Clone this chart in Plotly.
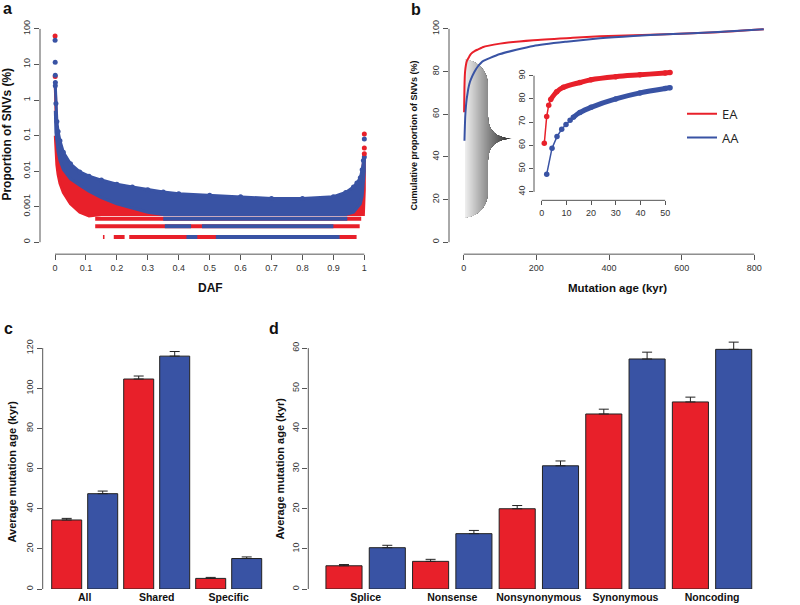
"""Four-panel SNV age figure (a: DAF spectrum, b: cumulative age, c/d: mean age bars)."""
import plotly.graph_objects as go

W, H = 800, 605
RED = "#E8202A"
BLUE = "#3953A4"
AXC = "#555555"
TXT = "#333333"
FONT = "Liberation Sans, Arial, sans-serif"

# ---- panel a: proportion of SNVs by derived allele frequency (envelopes)
DAF_GRID = [0.001, 0.003, 0.006, 0.01, 0.016, 0.027, 0.05, 0.08, 0.11, 0.15, 0.2, 0.25,
            0.3, 0.35, 0.4, 0.5, 0.6, 0.7, 0.8, 0.9, 0.94, 0.965, 0.976, 0.987, 0.993,
            0.997, 1.0]
AA_TOP = [2.5, 0.8, 0.25, 0.13, 0.072, 0.034, 0.016, 0.0095, 0.0072, 0.0056, 0.0043,
          0.0036, 0.0030, 0.0026, 0.0023, 0.0021, 0.0019, 0.0017, 0.0017, 0.0019, 0.0025,
          0.0036, 0.0046, 0.0065, 0.011, 0.02, 0.025]
AA_BOTTOM = [0.5, 0.12, 0.06, 0.035, 0.02, 0.011, 0.006, 0.0040, 0.0027, 0.0018, 0.0012,
             0.0009, 0.0007, 0.0006, 0.0006, 0.0006, 0.0006, 0.0006, 0.0006, 0.0006,
             0.0006, 0.0007, 0.0009, 0.0012, 0.002, 0.004, 0.01]
EA_TOP = [2.2, 0.3, 0.08, 0.04, 0.02, 0.012, 0.0065, 0.0045, 0.0035, 0.0028, 0.0022,
          0.0017, 0.0014, 0.0011, 0.001, 0.0009, 0.0009, 0.0009, 0.0009, 0.0009, 0.0011,
          0.0016, 0.0022, 0.0035, 0.008, 0.02, 0.03]
EA_BOTTOM = [0.1, 0.04, 0.015, 0.008, 0.0045, 0.0025, 0.0012, 0.0007, 0.00055, 0.0006,
             0.0006, 0.0006, 0.0006, 0.0006, 0.0006, 0.0006, 0.0006, 0.0006, 0.0006,
             0.0006, 0.0006, 0.0006, 0.0006, 0.0006, 0.0006, 0.0006, 0.003]
# isolated points at the two ends
EA_SINGLE_DAF = [0.0003, 0.0006, 1.0, 1.0, 1.0]
EA_SINGLE_P = [63, 4.6, 0.11, 0.045, 0.031]
AA_SINGLE_DAF = [0.0003, 0.0006, 0.0009, 0.0012, 1.0]
AA_SINGLE_P = [48, 11.6, 5.0, 3.1, 0.08]
# rows of singletons/doubletons/tripletons: (level, DAF from, DAF to)
EA_ROWS = [(0.00046, 0.13, 0.99), (0.00028, 0.13, 0.985), (0.00014, 0.155, 0.16),
           (0.00014, 0.19, 0.225), (0.00014, 0.24, 0.975)]
AA_ROWS = [(0.00046, 0.35, 0.945), (0.00028, 0.355, 0.44), (0.00028, 0.475, 0.9),
           (0.00014, 0.425, 0.46), (0.00014, 0.52, 0.92)]

# ---- panel b: cumulative proportion of SNVs vs mutation age (kyr)
EA_AGE = [1.05, 2.03, 2.84, 3.65, 6.1, 8.8, 15.5, 20, 30, 39.8, 50, 52, 100, 192, 300,
          375, 559, 700, 826]
EA_CUM = [60.9, 72.5, 77.3, 79.8, 83.1, 85.0, 87.1, 88.3, 89.6, 90.4, 91.2, 91.4, 93.1,
          94.7, 95.8, 96.5, 97.5, 98.4, 99.8]
AA_AGE = [2.03, 4.18, 6.2, 8.1, 9.85, 11.5, 12.8, 15.5, 20, 30, 39.8, 50, 52, 100, 192,
          283, 375, 467, 559, 700, 826]
AA_CUM = [47.6, 58.8, 63.8, 67.0, 69.0, 70.8, 72.1, 74.2, 76.4, 80.0, 82.6, 84.5, 84.8,
          88.2, 92.0, 94.0, 95.6, 96.7, 97.5, 98.5, 99.8]
INSET_MAX_AGE = 52

# ---- panel c / d: average mutation age (kyr) with SE
CATS_C = ["All", "Shared", "Specific"]
EA_C = [34.4, 104.6, 5.3]
EA_C_ERR = [0.8, 1.5, 0.5]
AA_C = [47.5, 116.0, 15.2]
AA_C_ERR = [1.3, 2.3, 0.8]

CATS_D = ["Splice", "Nonsense", "Nonsynonymous", "Synonymous", "Noncoding"]
EA_D = [5.8, 6.9, 20.0, 43.6, 46.6]
EA_D_ERR = [0.3, 0.5, 0.8, 1.2, 1.2]
AA_D = [10.3, 13.8, 30.7, 57.3, 59.7]
AA_D_ERR = [0.6, 0.8, 1.2, 1.7, 1.8]

LOGY_RANGE = [-4.3364, 2.2523]   # panel a, log10 units


def px(x):
    return x / W


def py(y):
    return 1 - y / H


def axis(**kw):
    base = dict(showline=False, showgrid=False, zeroline=False, ticks="outside",
                ticklen=5, tickwidth=1, tickcolor=AXC,
                tickfont=dict(family=FONT, size=9, color=TXT))
    base.update(kw)
    return base


fig = go.Figure()

# panel a ------------------------------------------------------------------
fig.add_trace(go.Scatter(x=DAF_GRID + DAF_GRID[::-1], y=EA_TOP + EA_BOTTOM[::-1], mode="lines",
                         fill="toself", fillcolor=RED, line=dict(color=RED, width=3),
                         xaxis="x", yaxis="y", showlegend=False))
for lvl, a, b in EA_ROWS:
    fig.add_trace(go.Scatter(x=[a, b], y=[lvl, lvl], mode="lines",
                             line=dict(color=RED, width=4), xaxis="x", yaxis="y",
                             showlegend=False))
fig.add_trace(go.Scatter(x=DAF_GRID + DAF_GRID[::-1], y=AA_TOP + AA_BOTTOM[::-1], mode="lines",
                         fill="toself", fillcolor=BLUE, line=dict(color=BLUE, width=3),
                         xaxis="x", yaxis="y", showlegend=False))
# dotted, ragged upper edge of the AA cloud
fig.add_trace(go.Scatter(x=DAF_GRID, y=AA_TOP, mode="markers",
                         marker=dict(color=BLUE, size=5), xaxis="x", yaxis="y",
                         showlegend=False))
for lvl, a, b in AA_ROWS:
    fig.add_trace(go.Scatter(x=[a, b], y=[lvl, lvl], mode="lines",
                             line=dict(color=BLUE, width=4), xaxis="x", yaxis="y",
                             showlegend=False))
fig.add_trace(go.Scatter(x=EA_SINGLE_DAF, y=EA_SINGLE_P, mode="markers",
                         marker=dict(color=RED, size=5), xaxis="x", yaxis="y", showlegend=False))
fig.add_trace(go.Scatter(x=AA_SINGLE_DAF, y=AA_SINGLE_P, mode="markers",
                         marker=dict(color=BLUE, size=5), xaxis="x", yaxis="y", showlegend=False))

# panel b ------------------------------------------------------------------
for age, cum, col, name in [(EA_AGE, EA_CUM, RED, "EA"), (AA_AGE, AA_CUM, BLUE, "AA")]:
    fig.add_trace(go.Scatter(x=age, y=cum, mode="lines", name=name,
                             line=dict(color=col, width=2, shape="spline", smoothing=0.6),
                             xaxis="x2", yaxis="y2", legendgroup=name))
# inset: first ages as separate dots, then a dense run of dots
for age, cum, col, dense_from in [(EA_AGE, EA_CUM, RED, 3), (AA_AGE, AA_CUM, BLUE, 6)]:
    ia = [a for a in age if a <= INSET_MAX_AGE]
    ic = cum[:len(ia)]
    fig.add_trace(go.Scatter(x=ia[dense_from:], y=ic[dense_from:], mode="lines",
                             line=dict(color=col, width=5, shape="spline"),
                             xaxis="x3", yaxis="y3", showlegend=False))
    fig.add_trace(go.Scatter(x=ia, y=ic, mode="lines+markers",
                             line=dict(color=col, width=1.5),
                             marker=dict(color=col, size=5.5),
                             xaxis="x3", yaxis="y3", showlegend=False))


# panels c and d -----------------------------------------------------------
def bars(cats, vals, errs, col, xa, ya):
    return go.Bar(x=cats, y=vals, marker=dict(color=col, line=dict(color="#222", width=1)),
                  error_y=dict(type="data", symmetric=False, array=errs,
                               arrayminus=[0] * len(errs), color="#222", thickness=1, width=5),
                  xaxis=xa, yaxis=ya, showlegend=False)


fig.add_trace(bars(CATS_C, EA_C, EA_C_ERR, RED, "x4", "y4"))
fig.add_trace(bars(CATS_C, AA_C, AA_C_ERR, BLUE, "x4", "y4"))
fig.add_trace(bars(CATS_D, EA_D, EA_D_ERR, RED, "x5", "y5"))
fig.add_trace(bars(CATS_D, AA_D, AA_D_ERR, BLUE, "x5", "y5"))

# R-style detached axis lines spanning the tick range only
shapes = []


def hline(xref, yref, x0, x1):
    shapes.append(dict(type="line", xref=xref, yref=yref + " domain", x0=x0, x1=x1,
                       y0=0, y1=0, line=dict(color=AXC, width=1)))


def vline(xref, yref, y0, y1):
    shapes.append(dict(type="line", xref=xref + " domain", yref=yref, x0=0, x1=0,
                       y0=y0, y1=y1, line=dict(color=AXC, width=1)))


def logfrac(v):
    lo, hi = LOGY_RANGE
    return (v - lo) / (hi - lo)


hline("x", "y", 0, 1)
shapes.append(dict(type="line", xref="x domain", yref="y domain", x0=0, x1=0,
                   y0=logfrac(-4), y1=logfrac(2), line=dict(color=AXC, width=1)))
hline("x2", "y2", 0, 800)
vline("x2", "y2", 0, 100)
hline("x3", "y3", 0, 50)
vline("x3", "y3", 40, 90)
vline("x4", "y4", 0, 120)
vline("x5", "y5", 0, 60)


# curly brace (grey gradient) linking the main curve to the inset
def bez(p0, p1, p2, p3, n=14):
    out = []
    for i in range(n + 1):
        t = i / n
        u = 1 - t
        out.append((u ** 3 * p0[0] + 3 * u * u * t * p1[0] + 3 * u * t * t * p2[0] + t ** 3 * p3[0],
                    u ** 3 * p0[1] + 3 * u * u * t * p1[1] + 3 * u * t * t * p2[1] + t ** 3 * p3[1]))
    return out


edge = (bez((466, 59), (476, 60), (488, 68), (488, 86))
        + bez((488, 116), (488, 131), (497, 137.5), (512, 138))
        + bez((512, 138), (497, 138.5), (488, 145), (488, 160))
        + bez((488, 190), (488, 208), (476, 216), (466, 217)))
left = 465
for c in range(512, left, -1):
    t = (c - left) / (512 - left)
    g = int(242 - t * 205)
    pts = [(left, 59)] + [(min(x, c), y) for x, y in edge] + [(left, 217)]
    path = "M " + " L ".join(f"{px(x):.5f},{py(y):.5f}" for x, y in pts) + " Z"
    shapes.append(dict(type="path", xref="paper", yref="paper", path=path,
                       fillcolor=f"rgb({g},{g},{g})", line=dict(width=0), layer="below"))

ann = []


def text(x, y, s, size=11, angle=0, bold=True):
    ann.append(dict(x=px(x), y=py(y), xref="paper", yref="paper", text=s, showarrow=False,
                    textangle=angle, xanchor="center", yanchor="middle",
                    font=dict(family=FONT, size=size, color="#111",
                              weight="bold" if bold else "normal")))


text(7, 8, "a", 16)
text(416, 9, "b", 16)
text(8, 329, "c", 16)
text(274, 329, "d", 16)
text(210, 288, "DAF", 12)
text(7, 134, "Proportion of SNVs (%)", 12, -90)
text(617, 288, "Mutation age (kyr)", 11.5)
text(414, 135, "Cumulative proportion of SNVs (%)", 9, -90)
text(12, 472, "Average mutation age (kyr)", 11, -90)
text(280, 469, "Average mutation age (kyr)", 11, -90)

fig.update_layout(
    width=W, height=H, margin=dict(l=0, r=0, t=0, b=0),
    paper_bgcolor="white", plot_bgcolor="rgba(0,0,0,0)",
    barmode="group", bargap=0, bargroupgap=1 / 6,
    xaxis=axis(domain=[px(40), px(377)], range=[-0.0485, 1.041], anchor="y",
               tickvals=[i / 10 for i in range(11)],
               ticktext=["0"] + [f"0.{i}" for i in range(1, 10)] + ["1"]),
    yaxis=axis(domain=[py(254), py(19)], type="log", range=LOGY_RANGE, anchor="x",
               tickvals=[1e-4, 1e-3, 1e-2, 0.1, 1, 10, 100],
               ticktext=["0", "0.001", "0.01", "0.1", "1", "10", "100"], tickangle=-90),
    xaxis2=axis(domain=[px(449), px(776)], range=[-40.5, 859.7], anchor="y2",
                tickvals=[0, 200, 400, 600, 800]),
    yaxis2=axis(domain=[py(254), py(19)], range=[-5.61, 104.2], anchor="x2",
                tickvals=[0, 20, 40, 60, 80, 100], tickangle=-90),
    xaxis3=axis(domain=[px(534), px(675)], range=[-3.12, 54.0], anchor="y3",
                tickvals=[0, 10, 20, 30, 40, 50], ticklen=4),
    yaxis3=axis(domain=[py(200), py(68)], range=[36.35, 93.0], anchor="x3",
                tickvals=[40, 50, 60, 70, 80, 90], tickangle=-90, ticklen=4),
    xaxis4=axis(domain=[px(42.7), px(270)], range=[-0.5833, 2.5736], anchor="y4",
                ticks="", tickfont=dict(family=FONT, size=10.5, color="#111", weight="bold")),
    yaxis4=axis(domain=[py(590), py(340)], range=[0, 124.1], anchor="x4",
                tickvals=[0, 20, 40, 60, 80, 100, 120], tickangle=-90),
    xaxis5=axis(domain=[px(308.3), px(760)], range=[-0.6622, 4.5537], anchor="y5",
                ticks="", tickfont=dict(family=FONT, size=10.5, color="#111", weight="bold")),
    yaxis5=axis(domain=[py(590), py(340)], range=[0, 62.06], anchor="x5",
                tickvals=[0, 10, 20, 30, 40, 50, 60], tickangle=-90),
    legend=dict(x=px(682), y=py(98), xanchor="left", yanchor="top",
                font=dict(family="Open Sans, sans-serif", size=13, color="#222"),
                bgcolor="rgba(0,0,0,0)", tracegroupgap=4),
    shapes=shapes, annotations=ann,
)

# drop the page's default body margin so the 800x605 figure fills the window exactly
fig.write_html("out.html", config={"displayModeBar": False},
               post_script="document.body.style.margin='0';")
